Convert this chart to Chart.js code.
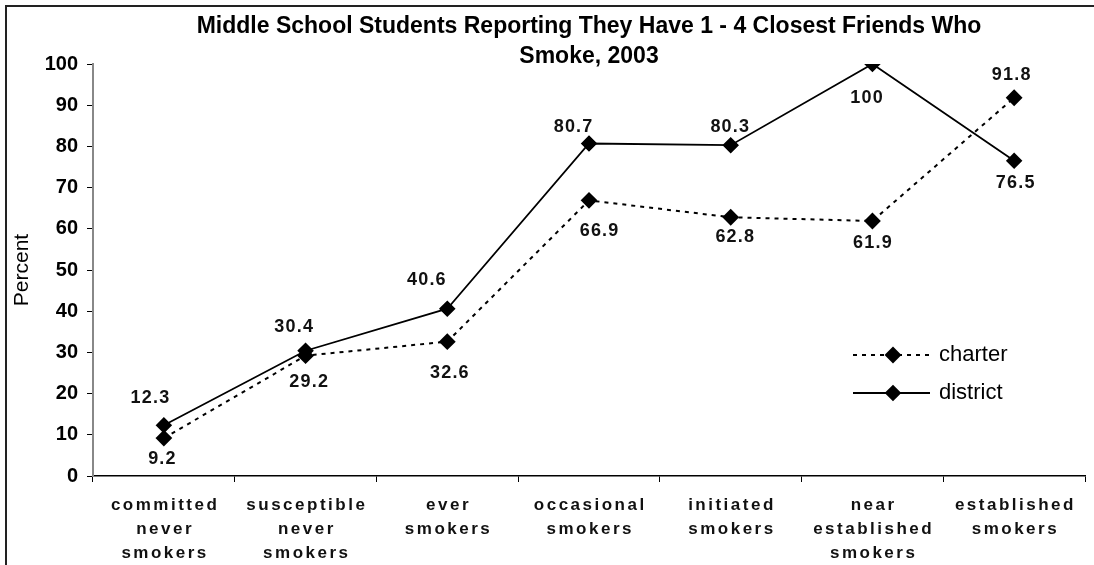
<!DOCTYPE html>
<html>
<head>
<meta charset="utf-8">
<script src="https://cdn.jsdelivr.net/npm/chart.js@4.4.1/dist/chart.umd.min.js"></script>
<style>
    html, body { margin: 0; padding: 0; background: #fff; overflow: hidden; }
    #wrap { position: relative; width: 1094px; height: 565px; }
    #frame { position: absolute; left: 5px; top: 5px; width: 1200px; height: 700px; border: 2px solid #222; }
    #myChart { position: absolute; left: 0; top: 0; }
</style>
</head>
<body>
<div id="wrap">
    <div id="frame"></div>
    <canvas id="myChart" width="1094" height="565"></canvas>
</div>
<script>
// Categorias y valores
const categories = [
    ['committed', 'never', 'smokers'],
    ['susceptible', 'never', 'smokers'],
    ['ever', 'smokers'],
    ['occasional', 'smokers'],
    ['initiated', 'smokers'],
    ['near', 'established', 'smokers'],
    ['established', 'smokers']
];
const charterValues = [9.2, 29.2, 32.6, 66.9, 62.8, 61.9, 91.8];
const districtValues = [12.3, 30.4, 40.6, 80.7, 80.3, 100, 76.5];
const yTicks = [0, 10, 20, 30, 40, 50, 60, 70, 80, 90, 100];
const titleLines = ['Middle School Students Reporting They Have 1 - 4 Closest Friends Who', 'Smoke, 2003'];

// Desplazamiento de cada etiqueta de valor respecto a su punto
const charterLabelOffsets = [[-2, 21], [3, 26], [2, 31], [10, 31], [4, 20], [0, 22], [-3, -23]];
const districtLabelOffsets = [[-14, -27], [-12, -24], [-21, -29], [-16, -16], [-1, -18], [-6, 34], [1, 22]];

const FONT = '"Liberation Sans", Arial, sans-serif';
const X_SPACING = 2.5;

// Título en dos líneas centrado sobre el área del gráfico
const titlePlugin = {
    id: 'titleLines',
    afterDraw(chart) {
        const ctx = chart.ctx;
        const cx = (chart.chartArea.left + chart.chartArea.right) / 2;
        ctx.save();
        ctx.font = 'bold 23px ' + FONT;
        ctx.fillStyle = '#000';
        ctx.textAlign = 'center';
        ctx.textBaseline = 'middle';
        ctx.fillText(titleLines[0], cx, 27);
        ctx.fillText(titleLines[1], cx, 57);
        ctx.restore();
    }
};

// Etiquetas con el valor de cada punto
const valueLabels = {
    id: 'valueLabels',
    afterDatasetsDraw(chart) {
        const ctx = chart.ctx;
        ctx.save();
        ctx.font = 'bold 18px ' + FONT;
        ctx.fillStyle = '#111';
        ctx.textAlign = 'center';
        ctx.textBaseline = 'middle';
        ctx.letterSpacing = '1.2px';
        chart.data.datasets.forEach((ds, di) => {
            const meta = chart.getDatasetMeta(di);
            meta.data.forEach((pt, i) => {
                const off = ds.labelOffsets[i];
                ctx.fillText(String(ds.data[i]), pt.x + off[0] + 0.6, pt.y + off[1]);
            });
        });
        ctx.restore();
    }
};

// Leyenda dentro del área: línea con marcador y texto
const lineLegend = {
    id: 'lineLegend',
    afterDraw(chart) {
        const ctx = chart.ctx;
        const rows = [355, 393];
        ctx.save();
        chart.data.datasets.forEach((ds, di) => {
            const y = rows[di];
            ctx.strokeStyle = ds.borderColor;
            ctx.lineWidth = ds.borderWidth;
            ctx.setLineDash(ds.borderDash || []);
            ctx.beginPath();
            ctx.moveTo(853, y);
            ctx.lineTo(930, y);
            ctx.stroke();
            ctx.setLineDash([]);
            Chart.helpers.drawPoint(ctx, {
                pointStyle: 'rectRot', radius: ds.pointRadius, rotation: 0, borderWidth: 1
            }, 893, y);
            ctx.fillStyle = '#000';
            ctx.font = '22px ' + FONT;
            ctx.textAlign = 'left';
            ctx.textBaseline = 'middle';
            ctx.fillText(ds.label, 939, y);
        });
        ctx.restore();
    }
};

// Espaciado entre letras en las etiquetas del eje x
const spacedXLabels = {
    id: 'spacedXLabels',
    afterUpdate(chart) {
        const s = chart.scales.x;
        if (s._spaced) return;
        const orig = s.drawLabels;
        s.drawLabels = function (area) {
            const ctx = this.ctx;
            ctx.save();
            ctx.letterSpacing = X_SPACING + 'px';
            ctx.translate(X_SPACING / 2, 0);
            orig.call(this, area);
            ctx.restore();
        };
        s._spaced = true;
    }
};

const data = {
    labels: categories,
    datasets: [{
        label: 'charter',
        data: charterValues,
        labelOffsets: charterLabelOffsets,
        borderColor: '#000',
        backgroundColor: '#000',
        borderWidth: 2,
        borderDash: [4, 5],
        pointStyle: 'rectRot',
        pointRadius: 7,
        pointBackgroundColor: '#000',
        pointBorderColor: '#000',
        tension: 0
    }, {
        label: 'district',
        data: districtValues,
        labelOffsets: districtLabelOffsets,
        borderColor: '#000',
        backgroundColor: '#000',
        borderWidth: 1.8,
        pointStyle: 'rectRot',
        pointRadius: 7,
        pointBackgroundColor: '#000',
        pointBorderColor: '#000',
        tension: 0
    }]
};

const config = {
    type: 'line',
    data: data,
    options: {
        responsive: false,
        animation: false,
        layout: { padding: { top: 64, right: 9, left: 0, bottom: 0 } },
        plugins: {
            legend: { display: false },
            title: { display: false },
            tooltip: { enabled: false }
        },
        scales: {
            x: {
                offset: true,
                grid: { display: true, offset: true, drawOnChartArea: false, tickLength: 6, color: '#000', lineWidth: 1 },
                border: { color: '#000', width: 1.5 },
                ticks: {
                    color: '#111', maxRotation: 0, autoSkip: false, padding: 11,
                    font: { family: FONT, size: 17, weight: 'bold', lineHeight: 1.42 }
                },
                afterFit(scale) { scale.height = 89; }
            },
            y: {
                min: 0, max: 100,
                afterBuildTicks(scale) { scale.ticks = yTicks.map(v => ({ value: v })); },
                grid: { display: true, drawOnChartArea: false, tickLength: 6, color: '#000', lineWidth: 1 },
                border: { color: '#888', width: 2 },
                ticks: {
                    color: '#000', padding: 9,
                    font: { family: FONT, size: 20, weight: 'bold' }
                },
                title: {
                    display: true, text: 'Percent', color: '#000',
                    font: { family: FONT, size: 21 },
                    padding: { top: 10, bottom: 0 }
                },
                afterFit(scale) { scale.width = 93; }
            }
        }
    },
    plugins: [spacedXLabels, valueLabels, lineLegend, titlePlugin]
};

// Crear el gráfico
var myChart = new Chart(document.getElementById('myChart'), config);
</script>
</body>
</html>
